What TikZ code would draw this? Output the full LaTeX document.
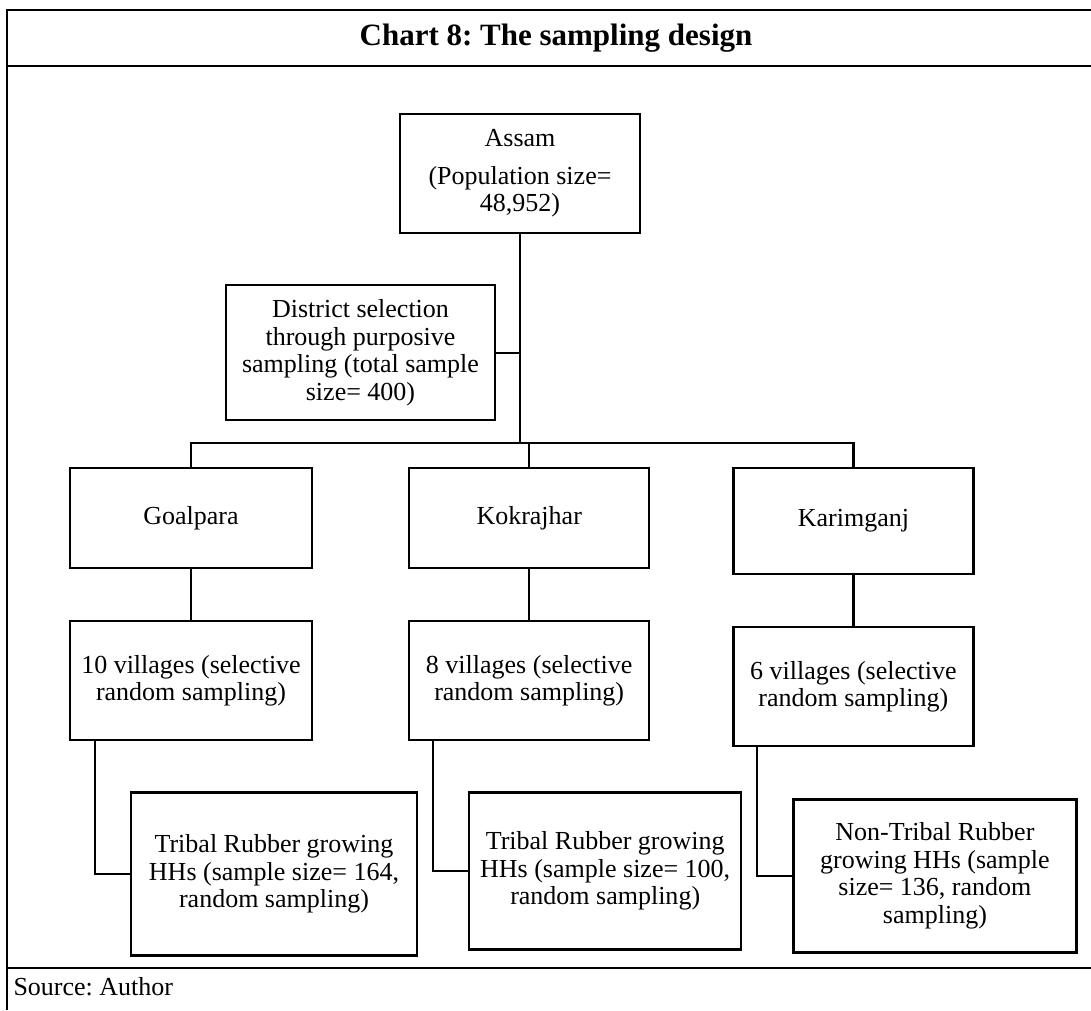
\documentclass[tikz,border=0pt]{standalone}
\usepackage{fontspec}
\setmainfont{Liberation Serif}
\usetikzlibrary{positioning}
\frenchspacing

\begin{document}
\begin{tikzpicture}[x=1pt,y=-1pt]
		\tikzstyle{block} = [rectangle, draw, line width=2.2pt, align=center, inner sep=2pt,
		font=\fontsize{26}{27.6}\selectfont]
		\tikzstyle{link} = [draw, line width=2.2pt]
		\tikzstyle{frame} = [draw, line width=2.4pt]
		\useasboundingbox (0,0) rectangle (1091,1010);

		% Frame and title
		\draw [frame] (7,1010) -- (7,10) -- (1091,10);
		\draw [frame] (7,66) -- (1091,66);
		\draw [frame] (7,968) -- (1091,968);
		\node [font=\fontsize{31}{34}\selectfont\bfseries] (title) at (556,38) {Chart 8: The sampling design};
		\node [anchor=west, font=\fontsize{26}{28}\selectfont] (source) at (10,987) {Source: Author};

		% State
		\node [block, minimum width=240pt, minimum height=119pt] (assam) at (520,173.5) {Assam\\[10pt](Population size=\\48,952)};

		% District selection
		\node [block, minimum width=269pt, minimum height=135pt, below=50pt of assam.south, xshift=-159.5pt] (district) {District selection\\through purposive\\sampling (total sample\\size= 400)};

		% Districts
		\node [block, minimum width=242pt, minimum height=100pt] (goalpara) at (191,518) {Goalpara};
		\node [block, minimum width=240pt, minimum height=100pt, right=95pt of goalpara] (kokrajhar) {Kokrajhar};
		\node [block, minimum width=240pt, minimum height=106pt, right=82pt of kokrajhar, yshift=-3pt] (karimganj) {Karimganj};

		% Villages
		\node [block, minimum width=242pt, minimum height=119pt, below=51pt of goalpara] (vill1) {10 villages (selective\\random sampling)};
		\node [block, minimum width=240pt, minimum height=119pt, below=51pt of kokrajhar] (vill2) {8 villages (selective\\random sampling)};
		\node [block, minimum width=240pt, minimum height=119pt, below=51pt of karimganj] (vill3) {6 villages (selective\\random sampling)};

		% Households
		\node [block, minimum width=286pt, minimum height=163pt, below=50pt of vill1.south, xshift=83pt] (hh1) {Tribal Rubber growing\\HHs (sample size= 164,\\random sampling)};
		\node [block, minimum width=272pt, minimum height=157pt, below=50pt of vill2.south, xshift=76pt] (hh2) {Tribal Rubber growing\\HHs (sample size= 100,\\random sampling)};
		\node [block, minimum width=283pt, minimum height=153pt, below=51pt of vill3.south, xshift=81.5pt] (hh3) {Non-Tribal Rubber\\growing HHs (sample\\size= 136, random\\sampling)};

		% connectors
		\coordinate (bus) at (520,443);
		\draw [link] (assam.south) -- (bus);
		\draw [link] (district.east) -- (district.east -| bus);
		\draw [link] (goalpara.north) |- (bus) -| (karimganj.north);
		\draw [link] (kokrajhar.north) -- (kokrajhar.north |- bus);
		%
		\draw [link] (goalpara.south) -- (vill1.north);
		\draw [link] (kokrajhar.south) -- (vill2.north);
		\draw [link] (karimganj.south) -- (vill3.north);
		%
		\draw [link] ([xshift=26pt]vill1.south west) |- (hh1.west);
		\draw [link] ([xshift=25pt]vill2.south west) |- (hh2.west);
		\draw [link] ([xshift=25pt]vill3.south west) |- (hh3.west);

	\end{tikzpicture}
\end{document}
